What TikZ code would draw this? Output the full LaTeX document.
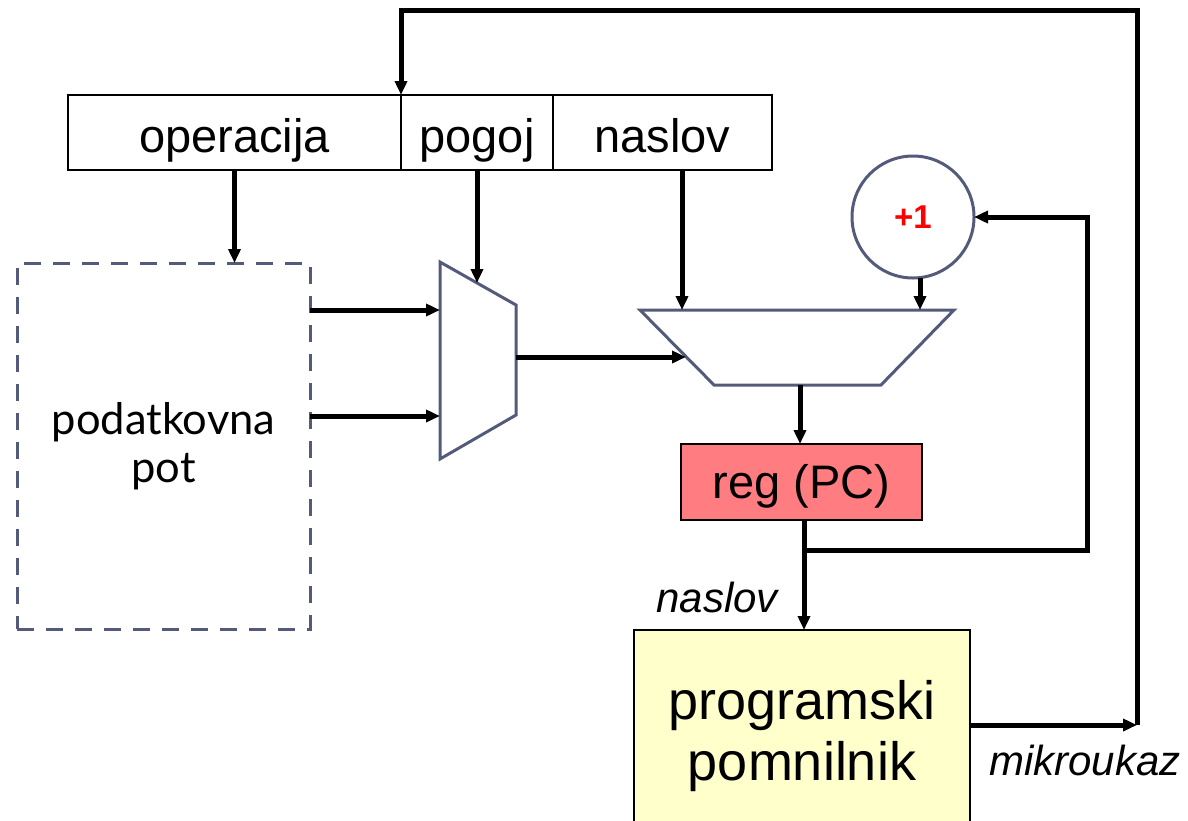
\documentclass[tikz,border=0pt]{standalone}
\usepackage{fontspec}
\setmainfont{Liberation Sans}
\newfontfamily\gillfont{Lato}
\usetikzlibrary{arrows.meta}
\definecolor{muxcol}{RGB}{84,91,122}
\definecolor{regfill}{RGB}{255,124,128}
\definecolor{progfill}{RGB}{255,255,204}
\begin{document}
\begin{tikzpicture}[x=1pt,y=-1pt,
  conn/.style={line width=5pt,-{Triangle[length=14pt,width=12pt]}},
  plain/.style={line width=5pt},
  field/.style={draw=black,line width=2pt,fill=white,inner sep=0,outer sep=0,
    minimum height=75pt,text height=39pt,text depth=0pt,font=\fontsize{47}{56}\selectfont},
  muxshape/.style={draw=muxcol,line width=3pt,line join=miter},
  lbl/.style={font=\fontsize{42}{50}\selectfont\itshape,inner sep=0}]
\useasboundingbox (0,0) rectangle (1188,820);
% instruction register fields
\node[field,minimum width=333pt] (op) at (234.5,132.5) {operacija};
\node[field,minimum width=152pt] (pg) at (477,132.5) {pogoj};
\node[field,minimum width=219pt] (na) at (662.5,132.5) {naslov};
% data path (dashed)
\node[draw=muxcol,line width=3pt,dash pattern=on 17pt off 12pt,minimum width=293pt,
  minimum height=366pt,inner sep=0,outer sep=0,align=center,
  font=\gillfont\fontsize{43.5}{48}\selectfont] (dp) at (163.5,446) {podatkovna\\pot};
% mux 1
\coordinate (m1a) at (440,262);
\coordinate (m1b) at (516,305);
\coordinate (m1c) at (516,415);
\coordinate (m1d) at (440,459);
\draw[muxshape] (m1a) -- (m1b) -- (m1c) -- (m1d) -- cycle;
% second mux
\coordinate (a1) at (640,310);
\coordinate (a2) at (954,310);
\coordinate (a3) at (881,385);
\coordinate (a4) at (714,385);
\draw[muxshape] (a1) -- (a2) -- (a3) -- (a4) -- cycle;
% +1
\node[circle,draw=muxcol,line width=3pt,minimum size=122pt,inner sep=0,outer sep=0,
  text=red,font=\bfseries\fontsize{33}{38}\selectfont] (inc) at (913,217) {+1};
% reg (PC)
\node[draw=black,line width=2pt,fill=regfill,minimum width=241pt,minimum height=76pt,
  inner sep=0,outer sep=0,text height=32pt,text depth=0pt,
  font=\fontsize{47}{56}\selectfont] (reg) at (801.5,482) {reg (PC)};
% program memory
\node[draw=black,line width=2pt,fill=progfill,minimum width=336pt,minimum height=212pt,
  inner sep=0,outer sep=0,align=center,font=\fontsize{54}{61}\selectfont] (prog) at (802,736)
  {programski\\pomnilnik};
% coordinates for connector ends
\coordinate (pgin) at (477,283);
\coordinate (nain) at (682,310);
\coordinate (incin) at (920,310);
\coordinate (m1i1) at (440,310);
\coordinate (m1i2) at (440,416);
\coordinate (m1out) at (516,357);
\coordinate (aluin) at (686,357);
\coordinate (aluout) at (800,385);
\coordinate (br) at (804,550);
\coordinate (fb) at (1087,550);
\coordinate (mk) at (1137,725);
\coordinate (top) at (1137,10);
% connectors
\draw[conn] (op.south) -- (op.south |- dp.north);
\draw[conn] (pg.south) -- (pgin);
\draw[conn] (na.south -| nain) -- (nain);
\draw[conn] (inc.south -| incin) -- (incin);
\draw[conn] (dp.east |- m1i1) -- (m1i1);
\draw[conn] (dp.east |- m1i2) -- (m1i2);
\draw[conn] (m1out) -- (aluin);
\draw[conn] (aluout) -- (aluout |- reg.north);
\draw[plain] (reg.south -| br) -- (br);
\draw[conn] (br) -- (br |- prog.north);
\draw[conn,line join=miter] (br) -- (fb) |- (inc.east);
\draw[conn] (mk -| prog.east) -- (mk);
\draw[conn,line join=miter] (mk) -- (top) -| (pg.north west);
% labels
\node[lbl] (lnaslov) at (717,597) {naslov};
\node[lbl] (lmikro) at (1085,760) {mikroukaz};
\end{tikzpicture}
\end{document}
